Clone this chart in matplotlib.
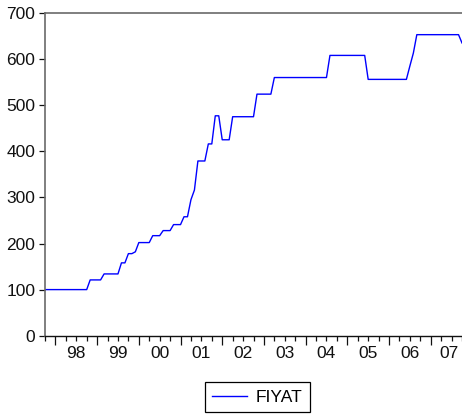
import matplotlib
matplotlib.use("Agg")
import matplotlib.pyplot as plt
import matplotlib.transforms as mtransforms
import numpy as np
import pandas as pd

plt.rcParams["font.family"] = ["Liberation Sans", "DejaVu Sans"]

# Monthly price series FIYAT, 1997M10 - 2007M10
start_month = "1997-10"
fiyat = [
    100, 100, 100,                                              # 1997
    100, 100, 100, 100, 100, 100, 100, 100, 100, 100, 121, 121,  # 1998
    121, 121, 134, 134, 134, 134, 134, 158, 158, 178, 178, 182,  # 1999
    202, 202, 202, 202, 217, 217, 217, 228, 228, 228, 241, 241,  # 2000
    241, 258, 258, 295, 316, 379, 379, 379, 416, 416, 477, 477,  # 2001
    425, 425, 425, 475, 475, 475, 475, 475, 475, 475, 524, 524,  # 2002
    524, 524, 524, 560, 560, 560, 560, 560, 560, 560, 560, 560,  # 2003
    560, 560, 560, 560, 560, 560, 560, 608, 608, 608, 608, 608,  # 2004
    608, 608, 608, 608, 608, 608, 556, 556, 556, 556, 556, 556,  # 2005
    556, 556, 556, 556, 556, 556, 585, 613, 653, 653, 653, 653,  # 2006
    653, 653, 653, 653, 653, 653, 653, 653, 653, 635,            # 2007
]
year_labels = ["98", "99", "00", "01", "02", "03", "04", "05", "06", "07"]
y_ticks = [0, 100, 200, 300, 400, 500, 600, 700]

periods = pd.period_range(start_month, periods=len(fiyat), freq="M")
x = np.array([p.year * 12 + p.month - 1 for p in periods], dtype=float)

fs = 12.5
fig = plt.figure(figsize=(4.62, 4.19), dpi=100)
ax = fig.add_axes([45 / 462, 1 - 335.7 / 419, 417 / 462, (335.7 - 13) / 419])

ax.plot(x, fiyat, color="#0000ff", lw=1.0, label="FIYAT")

ax.set_xlim(x[0], x[-1])
ax.set_ylim(0, 700)
ax.set_yticks(y_ticks)
ax.set_yticklabels([str(v) for v in y_ticks], fontsize=fs, color="#111111")

# quarter ticks (short) and January ticks (long)
quarters = [v for v in x if (v % 12) % 3 == 0]
januaries = [v for v in x if v % 12 == 0]
ax.set_xticks(januaries)
ax.set_xticklabels([])
ax.set_xticks(quarters, minor=True)
ax.tick_params(axis="x", which="major", direction="out", length=6.5, width=0.9, color="#111111")
ax.tick_params(axis="x", which="minor", direction="out", length=3.5, width=0.9, color="#111111")
ax.tick_params(axis="y", direction="out", length=4, width=0.9, color="#111111", pad=3)

# year labels centred in the visible part of each year
trans = mtransforms.blended_transform_factory(ax.transData, ax.transAxes)
first_year = periods[0].year + 1
for k, lab in enumerate(year_labels):
    s = (first_year + k) * 12
    e = min(s + 12, x[-1] + 1.5)
    ax.text((s + e) / 2, -0.033, lab, transform=trans, ha="center", va="top",
            fontsize=fs, color="#111111")

for side in ("left", "top"):
    ax.spines[side].set_color("#6a6a6a")
    ax.spines[side].set_linewidth(1.2)
ax.spines["bottom"].set_color("#111111")
ax.spines["bottom"].set_linewidth(1.0)
ax.spines["right"].set_visible(False)

leg = fig.legend(loc="center", bbox_to_anchor=(257.5 / 462, 1 - 397 / 419),
                 fontsize=fs, frameon=True, fancybox=False, edgecolor="#000000",
                 framealpha=1, handlelength=2.0, handletextpad=0.5,
                 borderpad=0.45, borderaxespad=0)
leg.get_frame().set_linewidth(0.9)

fig.savefig("out.png", dpi=100)
